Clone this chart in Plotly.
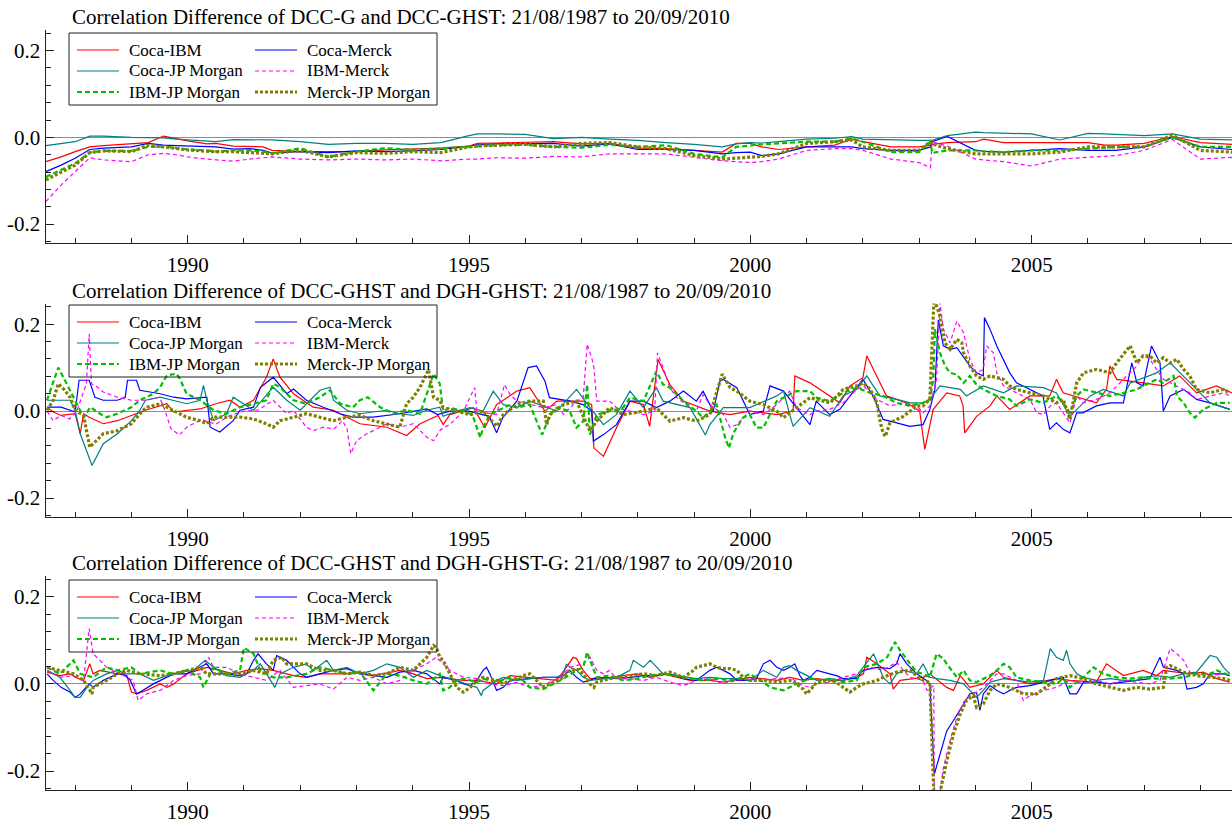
import plotly.graph_objects as go

W, H = 1232, 823
FONT = "Liberation Serif"

PAIRS = ["Coca-IBM", "Coca-Merck", "Coca-JP Morgan", "IBM-Merck", "IBM-JP Morgan", "Merck-JP Morgan"]
TITLES = [
    "Correlation Difference of DCC-G and DCC-GHST: 21/08/1987 to 20/09/2010",
    "Correlation Difference of DCC-GHST and DGH-GHST: 21/08/1987 to 20/09/2010",
    "Correlation Difference of DCC-GHST and DGH-GHST-G: 21/08/1987 to 20/09/2010",
]
X_TICKS = [1990, 1995, 2000, 2005]
X_MINOR = [1988, 1989, 1991, 1992, 1993, 1994, 1996, 1997, 1998, 1999,
           2001, 2002, 2003, 2004, 2006, 2007, 2008]
Y_TICKS = [-0.2, 0.0, 0.2]
Y_TICK_TEXT = ["-0.2", "0.0", "0.2"]
Y_MINOR = [-0.24, -0.16, -0.12, -0.08, -0.04, 0.04, 0.08, 0.12, 0.16, 0.24]

# ---------------- Panel 1 : DCC-G minus DCC-GHST ----------------
p1_t = [1987.48, 1987.75, 1988.0, 1988.26, 1988.5, 1989.0, 1989.3, 1989.57, 1989.8, 1990.0,
        1990.34, 1990.5, 1990.81, 1991.1, 1991.34, 1991.5, 1992.0, 1992.5, 1993.0, 1993.5,
        1994.0, 1994.5, 1995.0, 1995.15, 1995.5, 1996.0, 1996.5, 1997.0, 1997.5, 1998.0,
        1998.5, 1999.0, 1999.5, 1999.75, 2000.0, 2000.2, 2000.5, 2001.0, 2001.5, 2001.8,
        2002.0, 2002.5, 2003.0, 2003.2, 2003.23, 2003.5, 2004.0, 2004.15, 2004.5, 2005.0,
        2005.5, 2006.0, 2006.3, 2006.5, 2007.0, 2007.5, 2008.0, 2008.56]
p1_coca_ibm = [-0.056, -0.045, -0.033, -0.022, -0.019, -0.015, -0.012, 0.003, -0.003, -0.008,
               -0.015, -0.014, -0.02, -0.021, -0.022, -0.03, -0.033, -0.033, -0.033, -0.029,
               -0.027, -0.025, -0.02, -0.014, -0.013, -0.012, -0.01, -0.015, -0.014, -0.025,
               -0.026, -0.03, -0.034, -0.014, -0.014, -0.022, -0.028, -0.022, -0.018, -0.004,
               -0.01, -0.022, -0.022, -0.018, -0.016, -0.012, -0.01, -0.004, -0.012, -0.012,
               -0.012, -0.012, -0.018, -0.018, -0.014, 0.002, -0.012, -0.016]
p1_coca_merck = [-0.079, -0.064, -0.048, -0.028, -0.025, -0.022, -0.014, -0.018, -0.019, -0.02,
                 -0.021, -0.022, -0.027, -0.026, -0.03, -0.036, -0.033, -0.035, -0.031, -0.033,
                 -0.031, -0.028, -0.02, -0.017, -0.015, -0.014, -0.014, -0.02, -0.015, -0.028,
                 -0.028, -0.03, -0.038, -0.035, -0.034, -0.042, -0.038, -0.022, -0.022, -0.022,
                 -0.026, -0.03, -0.03, -0.022, -0.01, 0.002, -0.03, -0.032, -0.034, -0.03,
                 -0.026, -0.03, -0.03, -0.03, -0.022, 0.0, -0.022, -0.028]
p1_coca_jpm = [-0.019, -0.015, -0.01, 0.003, 0.003, 0.0, 0.0, -0.001, -0.004, -0.006,
               -0.008, -0.01, -0.005, -0.005, -0.006, -0.006, -0.01, -0.016, -0.014, -0.014,
               -0.016, -0.012, 0.004, 0.008, 0.008, 0.007, -0.003, 0.0, -0.004, -0.007,
               -0.012, -0.016, -0.022, -0.015, -0.012, -0.013, -0.01, -0.004, -0.002, 0.002,
               -0.004, -0.006, -0.007, -0.007, -0.007, 0.004, 0.012, 0.011, 0.01, 0.008,
               -0.006, 0.009, 0.008, 0.007, 0.004, 0.008, -0.004, -0.006]
p1_ibm_merck = [-0.148, -0.11, -0.079, -0.047, -0.052, -0.056, -0.04, -0.037, -0.04, -0.045,
                -0.05, -0.052, -0.055, -0.05, -0.047, -0.045, -0.05, -0.052, -0.05, -0.052,
                -0.05, -0.054, -0.05, -0.05, -0.047, -0.048, -0.044, -0.045, -0.038, -0.038,
                -0.038, -0.046, -0.054, -0.056, -0.058, -0.056, -0.05, -0.03, -0.026, -0.026,
                -0.03, -0.05, -0.058, -0.07, -0.01, -0.02, -0.05, -0.052, -0.056, -0.066,
                -0.05, -0.046, -0.044, -0.042, -0.03, -0.005, -0.05, -0.046]
p1_ibm_jpm = [-0.091, -0.075, -0.06, -0.035, -0.031, -0.031, -0.022, -0.021, -0.024, -0.028,
              -0.03, -0.033, -0.03, -0.03, -0.033, -0.037, -0.025, -0.045, -0.033, -0.025,
              -0.029, -0.025, -0.021, -0.02, -0.018, -0.017, -0.022, -0.024, -0.017, -0.022,
              -0.018, -0.038, -0.046, -0.022, -0.018, -0.016, -0.014, -0.01, -0.01, -0.002,
              -0.01, -0.034, -0.034, -0.01, -0.036, -0.03, -0.03, -0.032, -0.034, -0.03,
              -0.03, -0.026, -0.024, -0.022, -0.022, 0.0, -0.022, -0.022]
p1_merck_jpm = [-0.098, -0.08, -0.064, -0.035, -0.031, -0.033, -0.018, -0.022, -0.026, -0.029,
                -0.032, -0.033, -0.033, -0.035, -0.036, -0.038, -0.03, -0.045, -0.035, -0.037,
                -0.033, -0.035, -0.022, -0.02, -0.018, -0.016, -0.022, -0.014, -0.012, -0.022,
                -0.026, -0.042, -0.05, -0.048, -0.046, -0.044, -0.038, -0.014, -0.01, -0.006,
                -0.022, -0.03, -0.03, -0.01, -0.015, -0.026, -0.038, -0.038, -0.038, -0.038,
                -0.034, -0.022, -0.022, -0.022, -0.022, 0.005, -0.03, -0.034]

# ---------------- Panel 2 : DCC-GHST minus DGH-GHST  (year, value) ----------------
p2_coca_ibm = [(1987.5, 0.009), (1987.61, -0.002), (1987.75, -0.010), (1988.0, -0.006), (1988.09, -0.052),
               (1988.15, -0.006), (1988.25, -0.014), (1988.5, -0.029), (1988.75, -0.022), (1989.0, -0.010),
               (1989.25, 0.002), (1989.63, 0.017), (1989.75, -0.002), (1990.22, 0.005), (1990.5, 0.017),
               (1990.75, 0.025), (1990.93, 0.009), (1991.17, 0.025), (1991.4, 0.078), (1991.52, 0.12),
               (1991.64, 0.078), (1991.88, 0.040), (1992.23, 0.009), (1992.59, 0.002), (1993.06, -0.029),
               (1993.54, -0.037), (1993.89, -0.056), (1994.13, -0.029), (1994.45, -0.010), (1994.54, -0.031),
               (1994.66, -0.008), (1995.08, 0.008), (1995.28, -0.038), (1995.49, 0.015), (1995.85, 0.046),
               (1996.08, 0.054), (1996.35, 0.0), (1996.56, 0.023), (1997.03, 0.023), (1997.18, 0.015),
               (1997.22, -0.085), (1997.39, -0.104), (1997.62, -0.038), (1997.86, 0.023), (1998.1, 0.015),
               (1998.21, -0.035), (1998.36, 0.119), (1998.57, 0.061), (1998.81, 0.023), (1999.28, 0.0),
               (1999.64, -0.008), (1999.99, 0.0), (2000.47, -0.008), (2000.76, 0.0), (2000.79, 0.081),
               (2001.06, 0.065), (2001.41, 0.035), (2001.59, 0.019), (2001.77, 0.058), (2002.0, 0.077),
               (2002.07, 0.127), (2002.24, 0.081), (2002.42, 0.035), (2002.78, 0.019), (2003.01, 0.0),
               (2003.1, -0.088), (2003.25, 0.004), (2003.49, 0.042), (2003.72, 0.035), (2003.78, 0.012),
               (2003.81, -0.05), (2004.02, -0.012), (2004.26, 0.012), (2004.38, 0.035), (2004.61, 0.004),
               (2004.97, 0.035), (2005.32, 0.035), (2005.44, 0.073), (2005.56, 0.042), (2006.15, 0.019),
               (2006.33, 0.05), (2006.39, 0.104), (2006.51, 0.073), (2006.98, 0.065), (2007.34, 0.058),
               (2007.63, 0.081), (2007.93, 0.042), (2008.28, 0.058), (2008.56, 0.042)]
p2_coca_merck = [(1987.5, 0.009), (1987.75, 0.009), (1988.0, -0.002), (1988.07, 0.071), (1988.25, 0.071),
                 (1988.35, 0.032), (1988.5, 0.025), (1988.75, 0.025), (1988.89, 0.032), (1988.93, 0.071),
                 (1989.09, 0.071), (1989.15, 0.048), (1989.51, 0.04), (1989.75, 0.032), (1989.98, 0.028),
                 (1990.34, 0.032), (1990.4, -0.037), (1990.57, -0.048), (1990.81, -0.022), (1990.93, 0.002),
                 (1991.17, 0.009), (1991.29, 0.054), (1991.52, 0.078), (1991.76, 0.04), (1991.88, 0.051),
                 (1992.11, 0.025), (1992.41, 0.009), (1992.71, -0.006), (1992.94, -0.014), (1993.3, -0.014),
                 (1993.77, -0.006), (1994.25, 0.005), (1994.44, -0.008), (1994.66, 0.0), (1995.0, 0.0),
                 (1995.36, -0.012), (1995.49, -0.05), (1995.6, -0.015), (1995.85, 0.023), (1996.05, 0.1),
                 (1996.2, 0.104), (1996.35, 0.069), (1996.43, 0.031), (1996.8, 0.023), (1997.03, 0.015),
                 (1997.18, 0.0), (1997.21, -0.069), (1997.39, -0.054), (1997.62, -0.031), (1997.86, 0.023),
                 (1998.1, 0.023), (1998.33, 0.008), (1998.57, 0.023), (1998.81, 0.046), (1999.04, 0.023),
                 (1999.16, 0.046), (1999.34, 0.0), (1999.46, 0.069), (1999.52, 0.073), (1999.76, 0.054),
                 (1999.99, -0.008), (2000.23, 0.0), (2000.35, 0.058), (2000.59, 0.046), (2000.82, 0.008),
                 (2001.06, -0.031), (2001.17, 0.023), (2001.41, -0.008), (2001.59, 0.004), (2001.82, 0.042),
                 (2002.0, 0.073), (2002.18, 0.035), (2002.36, -0.019), (2002.6, -0.027), (2002.83, -0.035),
                 (2003.07, -0.031), (2003.19, 0.004), (2003.28, 0.05), (2003.34, 0.21), (2003.43, 0.15),
                 (2003.55, 0.142), (2003.67, 0.146), (2003.78, 0.127), (2003.9, 0.104), (2004.02, 0.088),
                 (2004.14, 0.081), (2004.16, 0.215), (2004.26, 0.188), (2004.38, 0.15), (2004.61, 0.088),
                 (2004.73, 0.065), (2004.97, 0.05), (2005.2, 0.035), (2005.32, -0.042), (2005.44, -0.027),
                 (2005.56, -0.042), (2005.68, -0.05), (2005.8, -0.004), (2005.91, -0.004), (2006.15, 0.012),
                 (2006.39, 0.019), (2006.63, 0.019), (2006.78, 0.111), (2006.87, 0.065), (2006.98, 0.058),
                 (2007.13, 0.15), (2007.28, 0.111), (2007.34, 0.0), (2007.46, 0.035), (2007.7, 0.05),
                 (2007.93, 0.027), (2008.17, 0.019), (2008.52, 0.004)]
p2_coca_jpm = [(1987.5, 0.025), (1987.75, 0.025), (1987.91, 0.025), (1988.0, 0.002), (1988.09, -0.052),
               (1988.3, -0.125), (1988.5, -0.075), (1988.75, -0.052), (1989.0, -0.022), (1989.15, 0.002),
               (1989.25, 0.025), (1989.51, 0.032), (1989.75, 0.025), (1989.98, 0.017), (1990.22, 0.025),
               (1990.28, 0.059), (1990.34, 0.025), (1990.46, -0.022), (1990.69, -0.006), (1990.81, 0.032),
               (1991.17, 0.002), (1991.52, 0.055), (1991.76, 0.025), (1992.0, 0.002), (1992.35, 0.048),
               (1992.53, 0.055), (1992.59, 0.025), (1992.83, 0.002), (1993.06, -0.006), (1993.54, 0.002),
               (1993.77, -0.006), (1994.01, -0.01), (1994.25, 0.002), (1994.48, 0.009), (1994.54, -0.012),
               (1994.78, 0.0), (1995.02, 0.008), (1995.25, 0.0), (1995.43, 0.046), (1995.61, 0.015),
               (1995.85, 0.008), (1996.08, 0.023), (1996.56, 0.0), (1996.91, 0.05), (1997.15, 0.008),
               (1997.39, -0.031), (1997.62, -0.008), (1997.86, 0.046), (1998.1, 0.008), (1998.33, 0.054),
               (1998.45, 0.023), (1998.93, 0.008), (1999.2, -0.055), (1999.28, -0.031), (1999.52, 0.008),
               (1999.99, 0.008), (2000.47, 0.035), (2000.59, 0.046), (2000.7, -0.008), (2000.76, -0.035),
               (2001.06, 0.008), (2001.41, -0.012), (2001.65, 0.035), (2001.89, 0.05), (2002.07, 0.081),
               (2002.3, 0.035), (2002.6, 0.027), (2002.84, 0.019), (2003.07, 0.019), (2003.19, 0.027),
               (2003.37, 0.058), (2003.73, 0.05), (2003.84, 0.035), (2004.14, 0.058), (2004.5, 0.042),
               (2004.73, 0.058), (2005.21, 0.054), (2005.44, 0.042), (2005.68, -0.012), (2006.04, 0.035),
               (2006.27, 0.05), (2006.63, 0.035), (2006.75, 0.065), (2007.22, 0.088), (2007.46, 0.111),
               (2007.7, 0.081), (2007.93, 0.05), (2008.17, 0.019), (2008.52, 0.004)]
p2_ibm_merck = [(1987.5, 0.0), (1987.61, -0.022), (1987.75, -0.01), (1987.9, -0.018), (1988.03, 0.0),
                (1988.2, 0.063), (1988.25, 0.178), (1988.29, 0.063), (1988.4, 0.055), (1988.5, 0.044),
                (1988.75, 0.032), (1989.0, 0.025), (1989.25, 0.025), (1989.5, 0.032), (1989.6, 0.0),
                (1989.7, -0.04), (1989.85, -0.055), (1990.0, -0.035), (1990.25, -0.02), (1990.5, -0.03),
                (1990.75, -0.01), (1991.0, 0.0), (1991.25, 0.002), (1991.52, 0.025), (1991.76, -0.006),
                (1991.88, 0.002), (1992.11, -0.037), (1992.23, -0.045), (1992.41, -0.037), (1992.6, -0.041),
                (1992.75, -0.022), (1992.83, -0.04), (1992.9, -0.098), (1993.0, -0.068), (1993.18, -0.052),
                (1993.3, -0.045), (1993.54, -0.029), (1993.77, -0.037), (1994.01, -0.029), (1994.25, -0.06),
                (1994.37, -0.068), (1994.48, -0.045), (1994.54, -0.038), (1994.66, -0.031), (1994.9, 0.0),
                (1995.1, 0.054), (1995.14, 0.0), (1995.49, -0.008), (1995.63, 0.061), (1995.73, 0.038),
                (1995.85, 0.023), (1996.08, 0.015), (1996.32, 0.008), (1996.56, 0.015), (1996.68, -0.008),
                (1996.91, 0.023), (1997.03, 0.031), (1997.1, 0.154), (1997.18, 0.123), (1997.22, 0.1),
                (1997.27, 0.023), (1997.5, 0.023), (1997.62, 0.008), (1997.86, 0.0), (1998.1, -0.008),
                (1998.3, 0.0), (1998.35, 0.134), (1998.45, 0.1), (1998.57, 0.054), (1998.69, 0.031),
                (1998.93, 0.008), (1999.04, 0.0), (1999.16, 0.038), (1999.28, 0.015), (1999.52, -0.008),
                (1999.64, -0.038), (1999.76, -0.031), (1999.99, 0.0), (2000.23, -0.008), (2000.47, 0.015),
                (2000.7, 0.046), (2000.82, 0.008), (2001.06, -0.008), (2001.18, 0.0), (2001.41, 0.004),
                (2001.65, 0.019), (2001.89, 0.05), (2002.01, 0.058), (2002.25, 0.027), (2002.48, 0.012),
                (2002.72, 0.019), (2002.96, 0.012), (2003.07, -0.004), (2003.19, 0.012), (2003.31, 0.073),
                (2003.37, 0.25), (2003.43, 0.188), (2003.55, 0.157), (2003.67, 0.207), (2003.79, 0.18),
                (2003.9, 0.119), (2004.02, 0.088), (2004.14, 0.096), (2004.2, 0.15), (2004.32, 0.134),
                (2004.38, 0.088), (2004.5, 0.058), (2004.73, 0.042), (2004.97, 0.027), (2005.09, -0.004),
                (2005.21, -0.008), (2005.33, 0.012), (2005.44, 0.019), (2005.56, -0.004), (2005.68, -0.027),
                (2005.8, 0.035), (2005.92, 0.019), (2006.15, 0.027), (2006.39, 0.042), (2006.63, 0.073),
                (2006.87, 0.104), (2006.98, 0.13), (2007.1, 0.119), (2007.34, 0.073), (2007.58, 0.058),
                (2007.81, 0.042), (2007.93, 0.027), (2008.17, 0.035), (2008.41, 0.042), (2008.52, 0.035)]
p2_ibm_jpm = [(1987.5, 0.025), (1987.7, 0.1), (1987.79, 0.078), (1987.91, 0.048), (1988.0, 0.025),
              (1988.15, -0.014), (1988.27, 0.009), (1988.44, -0.006), (1988.56, -0.014), (1988.75, -0.006),
              (1989.0, 0.009), (1989.15, 0.025), (1989.39, 0.04), (1989.51, 0.055), (1989.63, 0.082),
              (1989.8, 0.086), (1989.86, 0.075), (1989.98, 0.04), (1990.22, 0.025), (1990.46, 0.002),
              (1990.69, -0.006), (1990.93, 0.009), (1991.17, 0.017), (1991.4, 0.025), (1991.52, 0.063),
              (1991.64, 0.055), (1991.88, 0.025), (1992.11, 0.017), (1992.35, 0.032), (1992.53, 0.048),
              (1992.71, 0.017), (1992.94, 0.009), (1993.06, 0.025), (1993.2, 0.032), (1993.42, 0.009),
              (1993.66, -0.006), (1993.89, 0.002), (1994.13, -0.006), (1994.37, 0.086), (1994.48, 0.063),
              (1994.54, 0.0), (1994.66, 0.008), (1994.9, 0.0), (1995.06, -0.008), (1995.2, -0.061),
              (1995.25, -0.038), (1995.37, -0.008), (1995.49, 0.0), (1995.73, 0.015), (1995.85, 0.008),
              (1996.08, 0.015), (1996.3, -0.054), (1996.44, -0.008), (1996.56, 0.008), (1996.79, 0.0),
              (1996.91, -0.038), (1997.03, -0.023), (1997.1, 0.061), (1997.15, -0.054), (1997.27, -0.008),
              (1997.5, 0.0), (1997.74, 0.008), (1997.86, 0.031), (1998.1, 0.023), (1998.33, 0.092),
              (1998.45, 0.061), (1998.57, 0.054), (1998.81, 0.023), (1999.04, 0.0), (1999.16, -0.015),
              (1999.28, 0.0), (1999.4, 0.015), (1999.55, -0.06), (1999.62, -0.085), (1999.7, -0.05),
              (1999.87, -0.015), (1999.99, -0.008), (2000.11, -0.038), (2000.23, -0.038), (2000.47, 0.023),
              (2000.7, 0.038), (2000.82, 0.046), (2001.06, 0.046), (2001.18, 0.031), (2001.41, 0.023),
              (2001.65, 0.042), (2001.89, 0.054), (2002.13, 0.042), (2002.36, 0.035), (2002.6, 0.019),
              (2002.84, 0.012), (2003.07, 0.019), (2003.19, 0.027), (2003.25, 0.073), (2003.28, 0.188),
              (2003.37, 0.134), (2003.46, 0.104), (2003.55, 0.088), (2003.67, 0.084), (2003.79, 0.065),
              (2003.9, 0.081), (2004.02, 0.061), (2004.14, 0.05), (2004.38, 0.035), (2004.61, 0.027),
              (2004.73, 0.012), (2004.97, 0.027), (2005.21, 0.019), (2005.44, 0.035), (2005.56, 0.019),
              (2005.68, -0.004), (2005.8, 0.035), (2005.92, 0.05), (2006.15, 0.042), (2006.39, 0.035),
              (2006.63, 0.042), (2006.87, 0.05), (2006.98, 0.058), (2007.22, 0.073), (2007.34, 0.065),
              (2007.52, 0.081), (2007.58, 0.035), (2007.7, 0.019), (2007.81, -0.004), (2007.9, -0.015),
              (2008.05, 0.004), (2008.29, 0.019), (2008.52, 0.019)]
p2_merck_jpm = [(1987.5, 0.002), (1987.61, 0.025), (1987.7, 0.063), (1987.8, 0.05), (1987.91, 0.032),
                (1988.0, 0.002), (1988.15, -0.01), (1988.26, -0.083), (1988.32, -0.075), (1988.5, -0.052),
                (1988.75, -0.045), (1989.0, -0.029), (1989.15, -0.006), (1989.27, 0.009), (1989.51, 0.017),
                (1989.75, 0.002), (1989.98, -0.014), (1990.22, -0.022), (1990.34, -0.029), (1990.46, -0.014),
                (1990.69, -0.014), (1990.93, -0.014), (1991.17, -0.018), (1991.4, -0.029), (1991.52, -0.037),
                (1991.64, -0.022), (1991.88, -0.014), (1992.11, -0.006), (1992.35, -0.014), (1992.59, -0.022),
                (1992.83, -0.014), (1993.06, -0.01), (1993.3, -0.022), (1993.54, -0.029), (1993.77, -0.037),
                (1993.89, 0.017), (1994.01, 0.032), (1994.13, 0.055), (1994.28, 0.095), (1994.37, 0.032),
                (1994.48, 0.025), (1994.54, 0.008), (1994.78, 0.0), (1995.02, -0.008), (1995.25, 0.0),
                (1995.49, -0.035), (1995.61, -0.008), (1995.85, 0.015), (1996.08, 0.023), (1996.32, 0.023),
                (1996.38, -0.031), (1996.44, -0.008), (1996.68, 0.015), (1996.91, 0.023), (1997.15, -0.046),
                (1997.27, -0.023), (1997.5, 0.008), (1997.74, -0.008), (1998.1, 0.0), (1998.33, 0.008),
                (1998.45, -0.008), (1998.57, -0.023), (1998.81, -0.015), (1999.04, -0.023), (1999.28, -0.008),
                (1999.5, 0.085), (1999.64, 0.054), (1999.76, 0.046), (1999.99, 0.023), (2000.23, 0.015),
                (2000.47, 0.0), (2000.59, -0.015), (2000.82, 0.008), (2001.06, 0.031), (2001.3, 0.023),
                (2001.42, 0.019), (2001.65, 0.05), (2001.89, 0.058), (2002.01, 0.065), (2002.13, 0.05),
                (2002.25, 0.019), (2002.31, -0.027), (2002.36, -0.05), (2002.4, -0.058), (2002.48, -0.027),
                (2002.6, -0.019), (2002.72, -0.012), (2002.96, 0.012), (2003.07, 0.012), (2003.19, 0.027),
                (2003.26, 0.25), (2003.31, 0.242), (2003.37, 0.219), (2003.46, 0.157), (2003.55, 0.142),
                (2003.67, 0.165), (2003.76, 0.157), (2003.79, 0.134), (2003.9, 0.104), (2004.02, 0.081),
                (2004.14, 0.073), (2004.26, 0.081), (2004.5, 0.073), (2004.61, 0.058), (2004.73, 0.05),
                (2004.97, 0.042), (2005.21, 0.035), (2005.44, 0.019), (2005.56, 0.027), (2005.68, -0.019),
                (2005.8, 0.065), (2005.92, 0.088), (2006.15, 0.096), (2006.39, 0.088), (2006.51, 0.111),
                (2006.75, 0.15), (2006.87, 0.111), (2006.98, 0.127), (2007.1, 0.127), (2007.22, 0.111),
                (2007.34, 0.123), (2007.46, 0.111), (2007.58, 0.119), (2007.7, 0.096), (2007.81, 0.081),
                (2007.93, 0.05), (2008.17, 0.042), (2008.41, 0.05), (2008.52, 0.042)]

# ---------------- Panel 3 : DCC-GHST minus DGH-GHST-G  (year, value) ----------------
p3_coca_ibm = [(1987.5, 0.027), (1987.73, 0.019), (1987.91, 0.023), (1988.0, 0.015), (1988.15, 0.008),
               (1988.26, 0.046), (1988.32, 0.023), (1988.44, 0.031), (1988.75, 0.023), (1988.92, 0.019),
               (1989.0, -0.019), (1989.09, -0.023), (1989.27, -0.015), (1989.51, 0.0), (1989.63, -0.008),
               (1989.75, 0.0), (1989.98, 0.023), (1990.34, 0.038), (1990.57, 0.031), (1990.81, 0.023),
               (1991.05, 0.031), (1991.29, 0.035), (1991.52, 0.031), (1991.88, 0.019), (1992.11, 0.015),
               (1992.35, 0.023), (1992.83, 0.023), (1993.06, 0.027), (1993.3, 0.019), (1993.77, 0.031),
               (1994.01, 0.023), (1994.25, 0.012), (1994.48, 0.015), (1994.9, 0.008), (1995.14, 0.008),
               (1995.49, 0.0), (1995.73, 0.019), (1996.08, 0.015), (1996.56, 0.008), (1996.73, 0.038),
               (1996.85, 0.061), (1996.91, 0.058), (1997.03, 0.031), (1997.15, 0.012), (1997.5, 0.015),
               (1997.98, 0.023), (1998.22, 0.015), (1998.45, 0.023), (1998.93, 0.008), (1999.28, 0.008),
               (1999.52, 0.004), (1999.99, 0.015), (2000.47, 0.008), (2000.7, 0.015), (2000.94, 0.008),
               (2001.18, 0.012), (2001.41, 0.008), (2001.65, 0.008), (2001.89, 0.015), (2002.01, 0.023),
               (2002.07, 0.061), (2002.25, 0.046), (2002.48, 0.023), (2002.54, -0.012), (2002.66, 0.008),
               (2003.07, 0.015), (2003.19, 0.023), (2003.49, -0.008), (2003.61, -0.015), (2003.73, 0.019),
               (2003.9, -0.008), (2004.14, 0.0), (2004.38, 0.031), (2004.5, 0.015), (2004.97, 0.0),
               (2005.44, 0.012), (2005.68, 0.008), (2006.15, 0.004), (2006.33, 0.046), (2006.63, 0.019),
               (2006.98, 0.031), (2007.22, 0.019), (2007.34, 0.031), (2007.81, 0.023), (2008.05, 0.027),
               (2008.29, 0.012), (2008.52, 0.004)]
p3_coca_merck = [(1987.5, 0.023), (1987.61, 0.008), (1987.75, -0.008), (1987.91, -0.019), (1988.0, -0.031),
                 (1988.09, -0.023), (1988.25, 0.0), (1988.32, -0.008), (1988.5, 0.008), (1988.75, 0.023),
                 (1988.86, 0.023), (1988.98, 0.008), (1989.09, -0.023), (1989.15, -0.019), (1989.39, 0.0),
                 (1989.51, 0.008), (1989.75, 0.023), (1989.98, 0.023), (1990.22, 0.038), (1990.34, 0.046),
                 (1990.46, 0.023), (1990.69, 0.023), (1990.93, 0.019), (1991.05, 0.023), (1991.17, 0.054),
                 (1991.25, 0.069), (1991.4, 0.046), (1991.52, 0.031), (1991.58, 0.065), (1991.76, 0.054),
                 (1991.88, 0.038), (1992.0, 0.023), (1992.11, 0.015), (1992.35, 0.023), (1992.59, 0.031),
                 (1992.83, 0.035), (1993.06, 0.023), (1993.3, 0.019), (1993.54, 0.015), (1993.77, 0.027),
                 (1994.01, 0.031), (1994.25, 0.023), (1994.48, 0.0), (1994.54, 0.015), (1994.78, 0.008),
                 (1994.9, 0.0), (1995.02, -0.004), (1995.14, 0.008), (1995.25, 0.031), (1995.31, 0.038),
                 (1995.37, 0.023), (1995.49, -0.015), (1995.61, -0.008), (1995.73, 0.008), (1996.08, 0.012),
                 (1996.32, 0.015), (1996.56, 0.015), (1996.68, 0.019), (1996.79, 0.031), (1996.91, 0.015),
                 (1997.03, 0.004), (1997.15, 0.008), (1997.27, 0.015), (1997.5, 0.012), (1997.86, 0.015),
                 (1998.1, 0.019), (1998.33, 0.019), (1998.57, 0.023), (1998.81, 0.012), (1999.04, 0.008),
                 (1999.28, 0.031), (1999.4, 0.038), (1999.52, 0.031), (1999.64, 0.023), (1999.76, 0.008),
                 (1999.99, 0.008), (2000.11, 0.012), (2000.23, 0.046), (2000.35, 0.054), (2000.47, 0.038),
                 (2000.59, 0.031), (2000.7, 0.038), (2000.79, 0.046), (2000.88, 0.019), (2000.94, 0.008),
                 (2001.06, 0.015), (2001.18, 0.031), (2001.41, 0.023), (2001.53, 0.019), (2001.65, 0.012),
                 (2001.89, 0.012), (2001.95, 0.023), (2002.01, 0.031), (2002.25, 0.038), (2002.48, 0.035),
                 (2002.6, 0.046), (2002.66, 0.069), (2002.78, 0.046), (2002.96, 0.023), (2003.13, 0.008),
                 (2003.19, 0.0), (2003.27, -0.207), (2003.31, -0.19), (2003.37, -0.161), (2003.49, -0.108),
                 (2003.61, -0.084), (2003.79, -0.046), (2003.9, -0.023), (2004.02, -0.019), (2004.08, -0.061),
                 (2004.14, -0.023), (2004.26, -0.004), (2004.38, -0.015), (2004.5, -0.023), (2004.61, -0.015),
                 (2004.73, -0.008), (2004.97, -0.004), (2005.21, 0.004), (2005.44, 0.012), (2005.56, 0.015),
                 (2005.68, -0.023), (2005.8, -0.023), (2005.92, 0.004), (2006.15, 0.004), (2006.39, 0.0),
                 (2006.63, 0.004), (2006.87, 0.008), (2007.1, 0.012), (2007.28, 0.061), (2007.34, 0.038),
                 (2007.58, 0.031), (2007.7, 0.023), (2007.76, -0.012), (2007.93, -0.008), (2008.05, 0.0),
                 (2008.17, 0.023), (2008.41, 0.023), (2008.52, 0.019)]
p3_coca_jpm = [(1987.5, 0.031), (1987.73, 0.015), (1987.91, -0.015), (1988.0, -0.031), (1988.09, -0.031),
               (1988.21, -0.008), (1988.32, 0.008), (1988.56, 0.023), (1988.75, 0.031), (1988.92, 0.023),
               (1989.15, 0.023), (1989.39, 0.008), (1989.63, 0.019), (1989.86, 0.027), (1990.1, 0.031),
               (1990.31, 0.054), (1990.46, 0.038), (1990.69, 0.019), (1990.93, 0.015), (1991.17, 0.031),
               (1991.29, 0.046), (1991.55, -0.008), (1991.64, 0.023), (1991.88, 0.038), (1992.11, 0.046),
               (1992.23, 0.031), (1992.47, 0.054), (1992.59, 0.031), (1992.83, 0.038), (1993.06, 0.023),
               (1993.3, 0.031), (1993.54, 0.046), (1993.77, 0.038), (1994.01, 0.015), (1994.25, 0.031),
               (1994.48, 0.019), (1994.78, 0.008), (1995.02, -0.004), (1995.14, -0.008), (1995.22, -0.027),
               (1995.25, -0.015), (1995.49, 0.008), (1995.61, 0.015), (1995.85, 0.008), (1996.08, 0.012),
               (1996.32, 0.015), (1996.56, 0.015), (1996.68, 0.023), (1996.73, 0.046), (1996.79, 0.038),
               (1996.91, 0.031), (1997.03, 0.015), (1997.15, 0.008), (1997.39, 0.012), (1997.62, 0.015),
               (1997.74, 0.023), (1997.86, 0.031), (1997.92, 0.054), (1998.1, 0.038), (1998.22, 0.054),
               (1998.33, 0.038), (1998.45, 0.023), (1998.69, 0.019), (1998.93, 0.015), (1999.04, 0.012),
               (1999.28, 0.015), (1999.52, 0.012), (1999.76, 0.012), (1999.99, 0.008), (2000.23, 0.031),
               (2000.47, 0.015), (2000.59, 0.038), (2000.7, 0.042), (2000.82, 0.031), (2001.06, 0.015),
               (2001.18, 0.008), (2001.41, 0.012), (2001.65, 0.008), (2001.89, 0.019), (2002.01, 0.038),
               (2002.19, 0.069), (2002.25, 0.05), (2002.36, 0.015), (2002.48, 0.0), (2002.6, 0.023),
               (2002.72, 0.031), (2002.96, 0.023), (2003.07, 0.046), (2003.19, 0.015), (2003.31, 0.012),
               (2003.55, 0.008), (2003.79, 0.0), (2003.9, -0.015), (2004.02, -0.031), (2004.14, -0.015),
               (2004.26, 0.004), (2004.38, 0.008), (2004.5, 0.012), (2004.73, 0.008), (2004.97, 0.004),
               (2005.21, 0.008), (2005.33, 0.081), (2005.44, 0.061), (2005.56, 0.054), (2005.62, 0.077),
               (2005.68, 0.046), (2005.8, 0.023), (2005.92, 0.015), (2006.15, 0.008), (2006.39, 0.012),
               (2006.63, 0.008), (2006.87, 0.008), (2006.98, 0.015), (2007.22, 0.019), (2007.46, 0.015),
               (2007.7, 0.023), (2007.93, 0.027), (2008.17, 0.065), (2008.29, 0.061), (2008.41, 0.038),
               (2008.52, 0.023)]
p3_ibm_merck = [(1987.5, 0.031), (1987.73, 0.015), (1987.97, 0.019), (1988.15, 0.008), (1988.25, 0.127),
                (1988.32, 0.069), (1988.44, 0.054), (1988.56, 0.038), (1988.8, 0.023), (1989.03, 0.008),
                (1989.12, -0.038), (1989.27, -0.023), (1989.51, -0.015), (1989.75, 0.008), (1989.98, 0.019),
                (1990.22, 0.023), (1990.37, 0.061), (1990.46, 0.038), (1990.69, 0.038), (1990.93, 0.023),
                (1991.17, 0.015), (1991.4, 0.008), (1991.64, 0.031), (1991.88, -0.008), (1992.11, -0.004),
                (1992.35, 0.0), (1992.59, -0.012), (1992.83, 0.015), (1993.06, 0.008), (1993.3, 0.015),
                (1993.54, 0.0), (1993.77, 0.008), (1994.01, 0.031), (1994.25, 0.046), (1994.42, 0.061),
                (1994.54, 0.046), (1994.66, 0.031), (1994.78, 0.023), (1994.9, 0.015), (1995.14, 0.012),
                (1995.37, 0.0), (1995.61, -0.004), (1995.85, 0.004), (1996.08, -0.008), (1996.32, -0.004),
                (1996.56, 0.012), (1996.68, 0.023), (1996.79, 0.038), (1997.03, 0.046), (1997.15, 0.061),
                (1997.27, 0.031), (1997.39, 0.023), (1997.5, 0.031), (1997.62, 0.012), (1997.86, 0.012),
                (1998.1, 0.008), (1998.33, 0.015), (1998.57, 0.004), (1998.81, -0.004), (1999.04, 0.008),
                (1999.28, 0.012), (1999.52, 0.0), (1999.76, 0.008), (1999.99, 0.012), (2000.23, 0.008),
                (2000.47, 0.012), (2000.7, 0.015), (2000.94, -0.004), (2001.06, -0.008), (2001.18, 0.0),
                (2001.41, 0.004), (2001.65, 0.015), (2001.89, 0.023), (2002.13, 0.038), (2002.36, 0.031),
                (2002.6, 0.05), (2002.72, 0.031), (2002.84, 0.015), (2002.96, 0.012), (2003.07, 0.008),
                (2003.14, -0.015), (2003.21, -0.008), (2003.26, -0.004), (2003.27, -0.25), (2003.37, -0.25),
                (2003.43, -0.192), (2003.55, -0.13), (2003.67, -0.077), (2003.79, -0.042), (2003.9, -0.027),
                (2004.02, -0.019), (2004.14, -0.008), (2004.26, 0.008), (2004.38, 0.023), (2004.5, 0.023),
                (2004.73, 0.008), (2004.85, -0.038), (2004.97, -0.027), (2005.21, -0.015), (2005.44, -0.008),
                (2005.68, 0.008), (2005.92, 0.0), (2006.15, 0.008), (2006.39, 0.0), (2006.63, 0.008),
                (2006.87, 0.004), (2007.1, 0.0), (2007.28, 0.008), (2007.4, 0.054), (2007.46, 0.081),
                (2007.58, 0.069), (2007.7, 0.054), (2007.81, 0.027), (2007.93, 0.023), (2008.17, 0.019),
                (2008.41, 0.023), (2008.52, 0.027)]
p3_ibm_jpm = [(1987.5, 0.038), (1987.73, 0.023), (1987.97, 0.054), (1988.09, 0.023), (1988.32, 0.015),
              (1988.56, 0.038), (1988.75, 0.031), (1989.0, 0.038), (1989.15, 0.023), (1989.51, 0.031),
              (1989.75, 0.023), (1989.98, 0.031), (1990.22, 0.015), (1990.28, -0.008), (1990.46, 0.038),
              (1990.69, 0.023), (1990.93, 0.031), (1991.0, 0.083), (1991.17, 0.069), (1991.29, 0.031),
              (1991.52, 0.015), (1991.76, 0.015), (1992.11, 0.023), (1992.35, 0.038), (1992.59, 0.031),
              (1992.83, 0.023), (1993.06, 0.027), (1993.3, -0.015), (1993.54, 0.023), (1993.77, 0.019),
              (1994.01, 0.008), (1994.25, 0.0), (1994.48, 0.023), (1994.54, -0.015), (1994.66, -0.008),
              (1994.78, 0.008), (1994.9, 0.012), (1995.14, 0.004), (1995.25, 0.012), (1995.49, 0.004),
              (1995.73, 0.015), (1995.96, 0.008), (1996.08, -0.008), (1996.32, -0.012), (1996.44, -0.004),
              (1996.68, 0.012), (1996.91, 0.031), (1997.03, 0.038), (1997.1, 0.073), (1997.15, 0.054),
              (1997.27, 0.015), (1997.5, 0.019), (1997.74, 0.008), (1997.98, 0.012), (1998.22, 0.019),
              (1998.45, 0.023), (1998.69, 0.019), (1998.93, 0.012), (1999.16, 0.008), (1999.4, 0.012),
              (1999.64, 0.008), (1999.87, 0.015), (1999.99, 0.023), (2000.23, 0.004), (2000.35, -0.008),
              (2000.47, -0.012), (2000.59, -0.015), (2000.7, -0.008), (2000.82, 0.0), (2001.06, 0.012),
              (2001.3, 0.008), (2001.41, 0.012), (2001.65, 0.004), (2001.89, 0.008), (2002.01, 0.038),
              (2002.25, 0.046), (2002.43, 0.061), (2002.57, 0.096), (2002.66, 0.077), (2002.84, 0.046),
              (2002.96, 0.027), (2003.07, 0.023), (2003.19, 0.015), (2003.31, 0.069), (2003.43, 0.058),
              (2003.49, 0.046), (2003.67, 0.015), (2003.79, 0.031), (2003.9, 0.008), (2004.02, 0.004),
              (2004.14, 0.012), (2004.26, 0.019), (2004.38, 0.031), (2004.5, 0.046), (2004.61, 0.038),
              (2004.73, 0.015), (2004.97, 0.008), (2005.21, 0.004), (2005.44, 0.0), (2005.56, 0.012),
              (2005.68, -0.008), (2005.92, 0.015), (2006.04, 0.031), (2006.1, 0.038), (2006.27, 0.023),
              (2006.51, 0.015), (2006.75, 0.012), (2006.98, 0.015), (2007.22, 0.012), (2007.46, 0.012),
              (2007.7, 0.015), (2007.93, 0.023), (2008.17, 0.023), (2008.29, 0.031), (2008.52, 0.019)]
p3_merck_jpm = [(1987.5, 0.038), (1987.73, 0.031), (1987.97, 0.023), (1988.15, 0.008), (1988.3, -0.023),
                (1988.32, -0.008), (1988.56, 0.008), (1988.75, 0.023), (1988.92, 0.031), (1989.15, 0.023),
                (1989.51, 0.019), (1989.75, 0.023), (1989.98, 0.031), (1990.22, 0.038), (1990.34, 0.023),
                (1990.57, 0.023), (1990.93, 0.023), (1991.17, 0.031), (1991.4, 0.023), (1991.52, 0.054),
                (1991.67, 0.061), (1991.76, 0.046), (1992.11, 0.046), (1992.35, 0.031), (1992.59, 0.031),
                (1992.83, 0.023), (1993.06, 0.027), (1993.3, 0.019), (1993.54, 0.023), (1993.77, 0.038),
                (1994.01, 0.031), (1994.25, 0.061), (1994.37, 0.088), (1994.42, 0.084), (1994.48, 0.061),
                (1994.54, 0.054), (1994.66, 0.023), (1994.78, -0.008), (1994.9, -0.019), (1995.02, -0.008),
                (1995.14, 0.008), (1995.25, 0.015), (1995.49, 0.008), (1995.61, 0.0), (1995.73, 0.008),
                (1995.85, 0.012), (1995.96, 0.019), (1996.08, 0.023), (1996.2, 0.008), (1996.32, -0.008),
                (1996.44, 0.0), (1996.56, 0.008), (1996.68, 0.015), (1996.79, 0.031), (1996.91, 0.035),
                (1997.03, 0.023), (1997.15, 0.0), (1997.22, -0.008), (1997.27, 0.004), (1997.5, 0.012),
                (1997.86, 0.019), (1998.1, 0.023), (1998.33, 0.019), (1998.45, 0.023), (1998.57, 0.027),
                (1998.81, 0.015), (1998.99, 0.031), (1999.04, 0.038), (1999.28, 0.046), (1999.4, 0.038),
                (1999.52, 0.035), (1999.64, 0.035), (1999.76, 0.031), (1999.87, 0.015), (1999.99, 0.008),
                (2000.23, 0.008), (2000.47, 0.004), (2000.7, 0.008), (2000.82, 0.0), (2000.94, -0.012),
                (2001.0, -0.023), (2001.06, -0.015), (2001.18, 0.004), (2001.41, 0.008), (2001.53, 0.004),
                (2001.65, -0.008), (2001.77, -0.019), (2001.89, -0.008), (2002.01, 0.0), (2002.25, 0.008),
                (2002.36, 0.015), (2002.6, 0.027), (2002.84, 0.031), (2003.07, 0.008), (2003.19, 0.004),
                (2003.26, -0.25), (2003.37, -0.25), (2003.49, -0.177), (2003.61, -0.115), (2003.73, -0.069),
                (2003.84, -0.038), (2003.96, -0.027), (2004.02, -0.054), (2004.14, -0.046), (2004.26, -0.015),
                (2004.38, 0.0), (2004.61, -0.008), (2004.85, -0.023), (2005.09, -0.023), (2005.33, 0.0),
                (2005.44, 0.012), (2005.68, 0.019), (2005.92, 0.012), (2006.15, 0.0), (2006.39, -0.008),
                (2006.63, -0.015), (2006.87, -0.008), (2007.1, -0.012), (2007.34, -0.008), (2007.4, 0.038),
                (2007.46, 0.042), (2007.7, 0.027), (2007.93, 0.019), (2008.17, 0.015), (2008.41, 0.012),
                (2008.52, 0.008)]

STYLES = {
    "Coca-IBM": dict(color="#ff0000", width=1.2, dash="solid"),
    "Coca-Merck": dict(color="#0000ff", width=1.2, dash="solid"),
    "Coca-JP Morgan": dict(color="#008080", width=1.2, dash="solid"),
    "IBM-Merck": dict(color="#ff00ff", width=1.2, dash="4px,3px"),
    "IBM-JP Morgan": dict(color="#00c000", width=2.2, dash="5px,3px"),
    "Merck-JP Morgan": dict(color="#808000", width=3.2, dash="3px,2px"),
}


def px(x):
    return x / W


def py(y):
    return 1 - y / H


fig = go.Figure()

panel1 = [(p1_t, p1_coca_ibm), (p1_t, p1_coca_merck), (p1_t, p1_coca_jpm),
          (p1_t, p1_ibm_merck), (p1_t, p1_ibm_jpm), (p1_t, p1_merck_jpm)]
panel2 = [p2_coca_ibm, p2_coca_merck, p2_coca_jpm, p2_ibm_merck, p2_ibm_jpm, p2_merck_jpm]
panel3 = [p3_coca_ibm, p3_coca_merck, p3_coca_jpm, p3_ibm_merck, p3_ibm_jpm, p3_merck_jpm]

for name, (t, v) in zip(PAIRS, panel1):
    fig.add_trace(go.Scatter(x=t, y=v, mode="lines", line=STYLES[name], name=name,
                             showlegend=False, xaxis="x", yaxis="y"))
for k, panel in ((2, panel2), (3, panel3)):
    for name, pts in zip(PAIRS, panel):
        fig.add_trace(go.Scatter(x=[p[0] for p in pts], y=[p[1] for p in pts], mode="lines",
                                 line=STYLES[name], name=name, showlegend=False,
                                 xaxis=f"x{k}", yaxis=f"y{k}"))

# panel geometry (pixel rows of each plot area)
PANEL_ROWS = [(30, 243), (303.5, 517), (576, 790)]
X_LEFT = 45.5
AXIS_COLOR = "#202020"

layout = dict(
    width=W, height=H, margin=dict(l=0, r=0, t=0, b=0),
    paper_bgcolor="white", plot_bgcolor="white", showlegend=False,
    font=dict(family=FONT, color="black", size=21),
    hovermode=False,
)
for i, (top, bot) in enumerate(PANEL_ROWS):
    sfx = "" if i == 0 else str(i + 1)
    layout["xaxis" + sfx] = dict(
        domain=[px(X_LEFT), 1.0], range=[1987.473, 2008.56], anchor="y" + sfx,
        tickmode="array", tickvals=X_TICKS, ticktext=[str(v) for v in X_TICKS],
        ticks="inside", ticklen=8, tickwidth=1, tickcolor=AXIS_COLOR,
        showline=True, linecolor=AXIS_COLOR, linewidth=1.2, mirror=False,
        showgrid=False, zeroline=False, automargin=False,
        tickfont=dict(family=FONT, size=21, color="black"), ticklabelstandoff=3,
        minor=dict(tickvals=X_MINOR, ticks="inside", ticklen=5, tickwidth=1,
                   tickcolor=AXIS_COLOR, showgrid=False),
    )
    layout["yaxis" + sfx] = dict(
        domain=[py(bot), py(top)], range=[-0.2435, 0.2475], anchor="x" + sfx,
        tickmode="array", tickvals=Y_TICKS, ticktext=Y_TICK_TEXT,
        ticks="inside", ticklen=8, tickwidth=1, tickcolor=AXIS_COLOR,
        showline=True, linecolor=AXIS_COLOR, linewidth=1.2, mirror=False,
        showgrid=False, zeroline=True, zerolinecolor="#8c8c8c", zerolinewidth=1,
        automargin=False, tickfont=dict(family=FONT, size=21, color="black"),
        minor=dict(tickvals=Y_MINOR, ticks="inside", ticklen=5, tickwidth=1,
                   tickcolor=AXIS_COLOR, showgrid=False),
    )
fig.update_layout(**layout)

# titles and legends (drawn by hand: 2 columns x 3 rows)
TITLE_Y = [17, 291, 563]
LEG_TOP = [33, 305, 580]
annotations = []
shapes = []
legend_order = [["Coca-IBM", "Coca-Merck"], ["Coca-JP Morgan", "IBM-Merck"], ["IBM-JP Morgan", "Merck-JP Morgan"]]
for i in range(3):
    annotations.append(dict(text=TITLES[i], x=px(70), y=py(TITLE_Y[i]), xref="paper", yref="paper",
                            xanchor="left", yanchor="middle", showarrow=False,
                            font=dict(family=FONT, size=21, color="black")))
    top = LEG_TOP[i]
    shapes.append(dict(type="rect", xref="paper", yref="paper", x0=px(69), x1=px(437),
                       y0=py(top), y1=py(top + 72), line=dict(color=AXIS_COLOR, width=1),
                       fillcolor="rgba(0,0,0,0)", layer="above"))
    for r, row in enumerate(legend_order):
        yy = top + 17 + r * 21
        for c, name in enumerate(row):
            x0 = 77 if c == 0 else 255
            st = STYLES[name]
            shapes.append(dict(type="line", xref="paper", yref="paper", x0=px(x0), x1=px(x0 + 42),
                               y0=py(yy), y1=py(yy),
                               line=dict(color=st["color"], width=st["width"], dash=st["dash"]),
                               layer="above"))
            annotations.append(dict(text=name, x=px(x0 + 50), y=py(yy), xref="paper", yref="paper",
                                    xanchor="left", yanchor="middle", showarrow=False,
                                    font=dict(family=FONT, size=17, color="black")))
fig.update_layout(annotations=annotations, shapes=shapes)

fig.write_html("out.html")
